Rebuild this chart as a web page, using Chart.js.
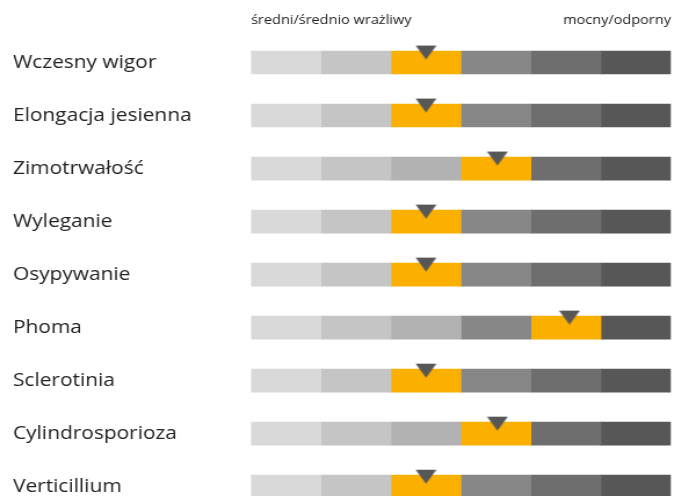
<!DOCTYPE html>
<html>
<head>
<meta charset="utf-8">
<script src="https://cdn.jsdelivr.net/npm/chart.js@4.4.1/dist/chart.umd.min.js"></script>
<style>
  html, body { margin: 0; padding: 0; background: #fff; overflow: hidden; }
  /* the original graphic is stretched sideways, so the canvas is too */
  #wrap { width: 592px; height: 527px; transform: scaleX(1.16); transform-origin: 0 0; }
</style>
</head>
<body>
<div id="wrap"><canvas id="chart" width="592" height="527"></canvas></div>
<script>
// traits shown as rows
const categories = ['Wczesny wigor', 'Elongacja jesienna', 'Zimotrwałość', 'Wyleganie',
  'Osypywanie', 'Phoma', 'Sclerotinia', 'Cylindrosporioza', 'Verticillium'];
// six steps of the scale, each one unit wide
const levels = [1, 2, 3, 4, 5, 6];
// which step is highlighted (0-based) for each row
const selectedLevel = [2, 2, 3, 2, 2, 4, 2, 3, 2];
// marker position on the 0-6 scale
const markerValues = [2.5, 2.5, 3.52, 2.5, 2.5, 4.55, 2.5, 3.52, 2.5];
// text at both ends of the scale
const scaleEndLabels = ['średni/średnio wrażliwy', 'mocny/odporny'];

const levelColors = ['#d9d9d9', '#c5c5c5', '#b2b2b2', '#878787', '#6e6e6e', '#575757'];
const highlight = '#fbb000';
const markerColor = '#575757';

// down-pointing triangle, drawn in the upper half so it sits on the top edge of the bar
const marker = document.createElement('canvas');
marker.width = 19;
marker.height = 40;
const mctx = marker.getContext('2d');
mctx.fillStyle = markerColor;
mctx.beginPath();
mctx.moveTo(0.5, 3);
mctx.lineTo(18.5, 3);
mctx.lineTo(9.5, 17);
mctx.closePath();
mctx.fill();

const barSets = levels.map((lvl, i) => ({
  type: 'bar',
  label: 'step ' + lvl,
  data: categories.map(() => 1),
  backgroundColor: categories.map((c, r) => selectedLevel[r] === i ? highlight : levelColors[i]),
  borderWidth: 0,
  barThickness: 23,
  stack: 'scale',
  order: 1
}));

const markerSet = {
  type: 'scatter',
  label: 'ocena',
  data: categories.map((c, r) => ({ x: markerValues[r], y: c })),
  pointStyle: marker,
  pointRadius: 10,
  stack: 'markers',
  order: 0,
  clip: false
};

new Chart(document.getElementById('chart'), {
  data: { labels: categories, datasets: [...barSets, markerSet] },
  options: {
    responsive: false,
    animation: false,
    indexAxis: 'y',
    layout: { padding: { left: 11.2, right: 13.6, top: 0, bottom: 2 } },
    plugins: { legend: { display: false }, tooltip: { enabled: false } },
    scales: {
      x: {
        type: 'linear',
        position: 'top',
        stacked: true,
        min: 0,
        max: 6,
        grid: { display: false },
        border: { display: false },
        afterBuildTicks: (axis) => { axis.ticks = [{ value: 0 }, { value: 6 }]; },
        afterFit: (axis) => { axis.height = 36; },
        ticks: {
          align: 'inner',
          padding: 0,
          color: '#222',
          font: { family: 'Open Sans', size: 12.5 },
          callback: (v) => v === 0 ? scaleEndLabels[0] : scaleEndLabels[1]
        }
      },
      y: {
        type: 'category',
        stacked: true,
        grid: { display: false },
        border: { display: false },
        afterFit: (axis) => { axis.width = 205.2; },
        ticks: {
          crossAlign: 'far',
          color: '#222',
          font: { family: 'Open Sans', size: 18 }
        }
      }
    }
  }
});
</script>
</body>
</html>
